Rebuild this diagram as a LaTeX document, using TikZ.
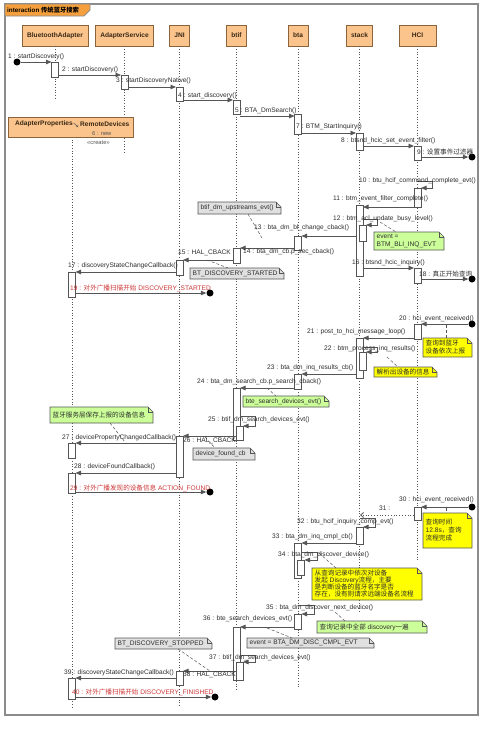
\documentclass[tikz,border=0pt]{standalone}
\usepackage{fontspec}
\setmainfont{Liberation Sans}
\newfontfamily\cjk{Noto Sans CJK SC}
\usetikzlibrary{arrows.meta}
\definecolor{hdr}{RGB}{250,196,140}
\definecolor{hdrb}{RGB}{140,100,60}
\definecolor{tabc}{RGB}{245,160,60}
\definecolor{frm}{RGB}{140,140,140}
\definecolor{ln}{RGB}{85,85,85}
\definecolor{ngreen}{RGB}{204,255,153}
\definecolor{nyellow}{RGB}{255,255,0}
\definecolor{ngrey}{RGB}{224,224,224}
\definecolor{redt}{RGB}{205,55,55}
\definecolor{txt}{RGB}{45,45,45}
\definecolor{hdrt}{RGB}{60,40,20}
\newcommand\zh[1]{{\cjk #1}}
\newcommand\notebox[7]{%
  \draw[notest, fill=#2] (#3,#4) -- ({#5-5},#4) -- (#5,{#4+5}) -- (#5,#6) -- (#3,#6) -- cycle;
  \draw[notest] ({#5-5},#4) -- ({#5-5},{#4+5}) -- (#5,{#4+5});
  \node[lbl, align=left] (#1) at ({#3+2.5},{(#4+#6)/2}) {#7};}
\newcommand\actv[3]{\draw[actb] ({#1-3.5},#2) rectangle ({#1+3.5},#3);}
\begin{document}
\begin{tikzpicture}[x=1pt,y=-1pt,
  lbl/.style={font=\fontsize{6.6}{8}\selectfont, text=txt, inner sep=0pt, anchor=west},
  redl/.style={lbl, text=redt},
  hdrbox/.style={draw=hdrb, fill=hdr, line width=0.6pt, inner sep=0pt, font=\fontsize{6.6}{8}\selectfont\bfseries, text=hdrt},
  msg/.style={draw=ln, line width=0.8pt, -{Triangle[length=5.5pt,width=4.5pt]}},
  amsg/.style={draw=ln, line width=0.8pt, dotted, -{Straight Barb[length=3pt,width=5pt]}},
  actb/.style={draw=ln, fill=white, line width=0.6pt},
  life/.style={draw=ln, dotted, line width=0.7pt},
  notest/.style={draw=ln, line width=0.6pt},
  ndash/.style={draw=ln, densely dashed, line width=0.5pt},
  dot/.style={circle, fill=black, minimum size=7pt, inner sep=0pt}]
\useasboundingbox (0,0) rectangle (499,736);
\fill[white] (0,0) rectangle (499,736);
% frame
\draw[draw=frm, line width=1.2pt] (5,4) rectangle (478,715);
\draw[draw=frm, fill=tabc, line width=0.8pt] (5,4) -- (90,4) -- (90,10) -- (84,16) -- (5,16) -- cycle;
\node[lbl, font=\fontsize{6.3}{8}\selectfont\bfseries, text=black] (title) at (7,10) {interaction \zh{传统蓝牙搜索}};
% headers
\node[hdrbox, minimum width=66pt, minimum height=21pt] (hBA) at (55,35.5) {BluetoothAdapter};
\node[hdrbox, minimum width=58pt, minimum height=21pt] (hAS) at (124.5,35.5) {AdapterService};
\node[hdrbox, minimum width=20pt, minimum height=21pt] (hJNI) at (179.5,35.5) {JNI};
\node[hdrbox, minimum width=20pt, minimum height=21pt] (hbtif) at (236.5,35.5) {btif};
\node[hdrbox, minimum width=20pt, minimum height=21pt] (hbta) at (298,35.5) {bta};
\node[hdrbox, minimum width=26pt, minimum height=21pt] (hstack) at (359.5,35.5) {stack};
\node[hdrbox, minimum width=37pt, minimum height=21pt] (hHCI) at (417.5,35.5) {HCI};
% lifelines
\draw[life] (hBA.south) -- (55,100);
\draw[life] (hAS.south) -- (124.5,152);
\draw[life] (hJNI.south) -- (179.5,707);
\draw[life] (hbtif.south) -- (236.5,690);
\draw[life] (hbta.south) -- (298,687);
\draw[life] (hstack.south) -- (359.5,612);
\draw[life] (hHCI.south) -- (417.5,560);
\draw[life] (72,137) -- (72,707);
\node[hdrbox, minimum width=125pt, minimum height=20pt] (hAP) at (70.5,127) {};
\node[lbl, font=\fontsize{6.6}{8}\selectfont\bfseries, text=hdrt] (apt) at (15,124) {AdapterProperties};
\draw[ln, line width=0.5pt, -{Straight Barb[length=1.5pt,width=2.5pt]}] (73.5,123) .. controls (75,125) and (76,124) .. (78,127);
\node[lbl, font=\fontsize{6.6}{8}\selectfont\bfseries, text=hdrt] (rdt) at (80,124) {RemoteDevices};
\node[lbl, font=\fontsize{5.8}{7}\selectfont, text=ln] (l6) at (92,134) {6 : new};
\node[lbl, font=\fontsize{5.8}{7}\selectfont, text=ln] (l6b) at (87,143) {«create»};
% activations
\actv{55}{62}{77}
\actv{124.5}{75}{89}
\actv{179.5}{87}{101} \actv{179.5}{260}{275} \actv{179.5}{436}{477} \actv{179.5}{671}{685}
\actv{236.5}{100}{114} \actv{236.5}{248}{263} \actv{236.5}{388}{440} \actv{239.5}{426}{440}
\actv{236.5}{627}{680} \actv{239.5}{662}{680}
\actv{298}{114}{134} \actv{298}{236}{250} \actv{298}{374}{389} \actv{298}{543}{578}
\actv{301}{560}{575} \actv{298}{614}{629}
\actv{359.5}{133}{150} \actv{359.5}{205}{276} \actv{362.5}{225}{241}
\actv{359.5}{338}{378} \actv{362.5}{352}{370} \actv{359.5}{527}{544}
\actv{417.5}{146}{160} \actv{417.5}{188}{207} \actv{417.5}{268}{283} \actv{417.5}{324}{339} \actv{417.5}{507}{520}
\actv{72}{272}{297} \actv{72}{443}{458} \actv{72}{473}{493} \actv{72}{678}{699}
% end points
\node[dot] (c1) at (17,62) {};
\node[dot] (c9) at (472,157) {};
\node[dot] (c18) at (472,279) {};
\node[dot] (c19) at (210,293) {};
\node[dot] (c20) at (472,324) {};
\node[dot] (c29) at (210,492) {};
\node[dot] (c30) at (472,507) {};
\node[dot] (c40) at (215,697) {};
% messages
\draw[msg] (c1.east) -- (51.5,62);
\draw[msg] (58.5,75) -- (121,75);
\draw[msg] (128,87) -- (176,87);
\draw[msg] (183,100) -- (233,100);
\draw[msg] (240,116) -- (294.5,116);
\draw[msg] (301.5,133) -- (356,133);
\draw[msg] (363,146) -- (414,146);
\draw[msg] (421,157) -- (c9.west);
\draw[msg] (417.5,181) -- (432,181) -- (432,188) -- (421,188);
\draw[msg] (414,207) -- (363,207);
\draw[msg] (363,219) -- (377,219) -- (377,225) -- (366,225);
\draw[msg] (356,236) -- (301.5,236);
\draw[msg] (294.5,248) -- (240,248);
\draw[msg] (233,260) -- (183,260);
\draw[msg] (363,268) -- (414,268);
\draw[msg] (176,272) -- (75.5,272);
\draw[msg] (421,279) -- (c18.west);
\draw[msg] (75.5,293) -- (c19.west);
\draw[msg] (c20.west) -- (421,324);
\draw[msg] (414,338) -- (363,338);
\draw[msg] (363,347) -- (377,347) -- (377,352) -- (366,352);
\draw[msg] (356,374) -- (301.5,374);
\draw[msg] (294.5,388) -- (240,388);
\draw[msg] (240,416) -- (255,416) -- (255,426) -- (243,426);
\draw[msg] (236,436) -- (183,436);
\draw[msg] (176,443) -- (75.5,443);
\draw[msg] (176,473) -- (75.5,473);
\draw[msg] (75.5,492) -- (c29.west);
\draw[msg] (c30.west) -- (421,507);
\draw[amsg] (414,515) -- (360,515);
\draw[msg] (359.5,518) -- (375,518) -- (375,527) -- (363,527);
\draw[msg] (356,543) -- (301.5,543);
\draw[msg] (301.5,552) -- (317,552) -- (317,560) -- (304.5,560);
\draw[msg] (298,605) -- (314,605) -- (314,614) -- (301.5,614);
\draw[msg] (294.5,627) -- (240,627);
\draw[msg] (240,655) -- (255,655) -- (255,662) -- (243,662);
\draw[msg] (236,671) -- (183,671);
\draw[msg] (176,678) -- (75.5,678);
\draw[msg] (75.5,697) -- (c40.west);
% notes
\notebox{n1}{ngrey}{198}{202}{281}{214}{btif\_dm\_upstreams\_evt()}
\draw[ndash] (248,214) -- (262,238);
\notebox{n2}{ngreen}{374}{232}{444}{250}{event =\\BTM\_BLI\_INQ\_EVT}
\draw[ndash] (380,222) -- (396,232);
\notebox{n3}{ngrey}{190}{268}{284}{279}{BT\_DISCOVERY\_STARTED}
\draw[ndash] (207,260) -- (228,268);
\notebox{n4}{nyellow}{423}{338}{472}{357}{\zh{查询到蓝牙}\\\zh{设备依次上报}}
\draw[ndash] (446,325) -- (446,338);
\notebox{n5}{nyellow}{374}{367}{437}{377}{\zh{解析出设备的信息}}
\draw[ndash] (387,357) -- (398,367);
\notebox{n6}{ngreen}{243}{396}{329}{407}{bte\_search\_devices\_evt()}
\draw[ndash] (267,388) -- (276,396);
\notebox{n7}{ngreen}{50}{407}{153}{423}{\zh{蓝牙服务层保存上报的设备信息}}
\draw[ndash] (110,423) -- (125,442);
\notebox{n8}{ngrey}{193}{448}{255}{460}{device\_found\_cb}
\draw[ndash] (205,437) -- (215,448);
\notebox{n9}{nyellow}{423}{513}{472}{548}{\zh{查询时间}\\12.8s\zh{，查询}\\\zh{流程完成}}
\draw[ndash] (446,508) -- (446,513);
\notebox{n10}{nyellow}{312}{568}{422}{600}{\zh{从查询记录中依次对设备}\\[-1pt]\zh{发起} Discovery\zh{流程，主要}\\[-1pt]\zh{是判断设备的蓝牙名字是否}\\[-1pt]\zh{存在，没有则请求远端设备名流程}}
\draw[ndash] (319,553) -- (336,568);
\notebox{n11}{ngreen}{317}{621}{427}{633}{\zh{查询记录中全部} discovery\zh{一遍}}
\draw[ndash] (345,621) -- (335,612);
\notebox{n12}{ngrey}{247}{638}{374}{648}{event = BTA\_DM\_DISC\_CMPL\_EVT}
\draw[ndash] (267,628) -- (292,638);
\notebox{n13}{ngrey}{115}{638}{212}{649}{BT\_DISCOVERY\_STOPPED}
\draw[ndash] (178,649) -- (210,671);
% labels
\node[lbl] (l1) at (8,57) {1 : startDiscovery()};
\node[lbl] (l2) at (62,70) {2 : startDiscovery()};
\node[lbl] (l3) at (116,81) {3 : startDiscoveryNative()};
\node[lbl] (l4) at (178,96) {4 : start\_discovery()};
\node[lbl] (l5) at (235,111) {5 : BTA\_DmSearch()};
\node[lbl] (l7) at (296,127) {7 : BTM\_StartInquiry()};
\node[lbl] (l8) at (341,141) {8 : btsnd\_hcic\_set\_event\_filter()};
\node[lbl] (l9) at (417,152) {9 : \zh{设置事件过滤器}};
\node[lbl] (l10) at (359,181) {10 : btu\_hcif\_command\_complete\_evt()};
\node[lbl] (l11) at (333,199) {11 : btm\_event\_filter\_complete()};
\node[lbl] (l12) at (333,219) {12 : btm\_acl\_update\_busy\_level()};
\node[lbl] (l13) at (254,228) {13 : bta\_dm\_bl\_change\_cback()};
\node[lbl] (l14) at (243,252) {14 : bta\_dm\_cb.p\_sec\_cback()};
\node[lbl] (l15) at (178,253) {15 : HAL\_CBACK};
\node[lbl] (l16) at (352,263) {16 : btsnd\_hcic\_inquiry()};
\node[lbl] (l17) at (68,266) {17 : discoveryStateChangeCallback()};
\node[lbl] (l18) at (419,274) {18 : \zh{真正开始查询}};
\node[redl] (l19) at (70,288) {19 : \zh{对外广播扫描开始} DISCOVERY\_STARTED};
\node[lbl] (l20) at (399,319) {20 : hci\_event\_received()};
\node[lbl] (l21) at (307,332) {21 : post\_to\_hci\_message\_loop()};
\node[lbl] (l22) at (324,349) {22 : btm\_process\_inq\_results()};
\node[lbl] (l23) at (267,368) {23 : bta\_dm\_inq\_results\_cb()};
\node[lbl] (l24) at (197,382) {24 : bta\_dm\_search\_cb.p\_search\_cback()};
\node[lbl] (l25) at (208,420) {25 : btif\_dm\_search\_devices\_evt()};
\node[lbl] (l26) at (183,441) {26 : HAL\_CBACK};
\node[lbl] (l27) at (62,438) {27 : devicePropertyChangedCallback()};
\node[lbl] (l28) at (74,467) {28 : deviceFoundCallback()};
\node[redl] (l29) at (70,488) {29 : \zh{对外广播发现的设备信息} ACTION\_FOUND};
\node[lbl] (l30) at (399,500) {30 : hci\_event\_received()};
\node[lbl] (l31) at (379,508) {31 :};
\node[lbl] (l32) at (297,522) {32 : btu\_hcif\_inquiry\_comp\_evt()};
\node[lbl] (l33) at (272,537) {33 : bta\_dm\_inq\_cmpl\_cb()};
\node[lbl] (l34) at (278,555) {34 : bta\_dm\_discover\_device()};
\node[lbl] (l35) at (266,608) {35 : bta\_dm\_discover\_next\_device()};
\node[lbl] (l36) at (203,619) {36 : bte\_search\_devices\_evt()};
\node[lbl] (l37) at (209,658) {37 : btif\_dm\_search\_devices\_evt()};
\node[lbl] (l38) at (183,675) {38 : HAL\_CBACK};
\node[lbl] (l39) at (64,673) {39 : discoveryStateChangeCallback()};
\node[redl] (l40) at (72,692) {40 : \zh{对外广播扫描开始} DISCOVERY\_FINISHED};
\end{tikzpicture}
\end{document}
